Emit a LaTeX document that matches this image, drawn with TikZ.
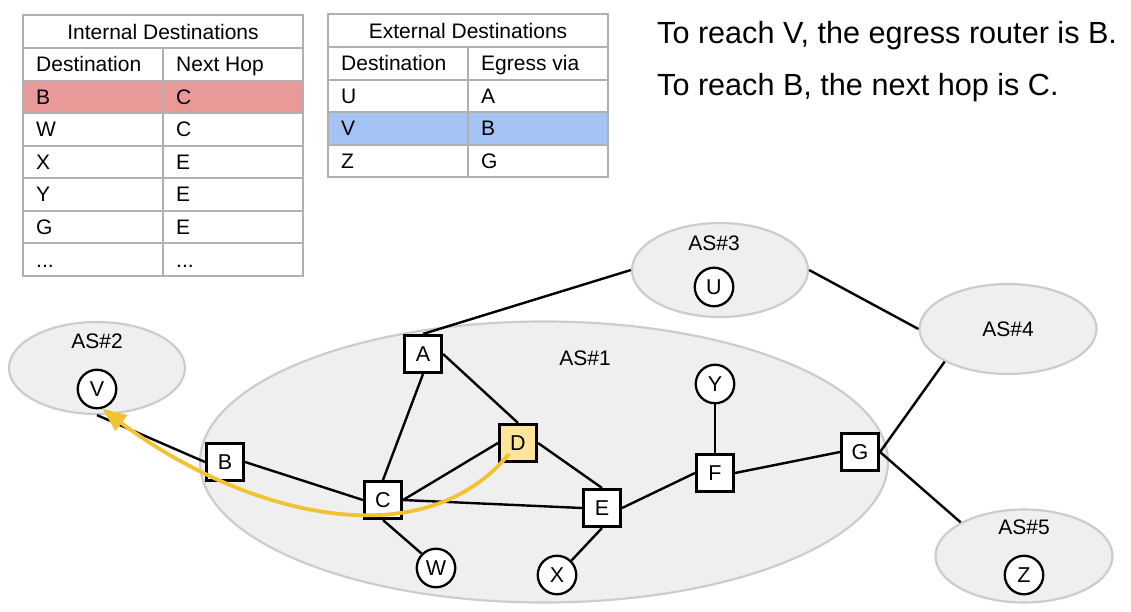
\documentclass[tikz,border=0pt]{standalone}
\usepackage{fontspec}
\setmainfont{Liberation Sans}
\usetikzlibrary{shapes.geometric,arrows.meta}

\definecolor{asfill}{HTML}{EFEFEF}
\definecolor{asline}{HTML}{CCCCCC}
\definecolor{cellline}{HTML}{B0B0B0}
\definecolor{redrow}{HTML}{EA9999}
\definecolor{bluerow}{HTML}{A4C2F4}
\definecolor{egress}{HTML}{FFE599}
\definecolor{routecol}{HTML}{F1C232}

\newcommand{\moredots}{...}

\tikzset{
	router/.style={draw, line width=2.6pt, fill=white, minimum size=37.5pt, inner sep=0pt, font=\fontsize{21.5}{25}\selectfont},
	host/.style={draw, circle, line width=2.3pt, fill=white, minimum size=38.5pt, inner sep=0pt, font=\fontsize{21.5}{25}\selectfont},
	as/.style={draw=asline, fill=asfill, ellipse, line width=2.2pt, inner sep=0pt, font=\fontsize{21}{25}\selectfont},
	aslabel/.style={inner sep=0pt, font=\fontsize{21}{25}\selectfont},
	link/.style={line width=2.4pt},
	route/.style={draw=routecol, line width=3.8pt, -{Triangle[length=24pt,width=19pt]}},
	cell/.style={draw=cellline, line width=1.5pt},
	entry/.style={anchor=base west, inner sep=0pt, font=\fontsize{21}{25}\selectfont},
	note/.style={anchor=base west, inner sep=0pt, font=\fontsize{30.6}{36}\selectfont}
}

\begin{document}
\begin{tikzpicture}[x=1pt,y=1pt]
	\useasboundingbox (0,0) rectangle (1131,-612);

	% internal destinations table
	\fill[redrow] (23,-81) rectangle (303,-113);
	\draw[cell] (23,-15) rectangle (303,-276);
	\foreach \y in {48,81,113,146,178,211,243}
		\draw[cell] (23,-\y) -- (303,-\y);
	\draw[cell] (163,-48) -- (163,-276);
	\node[aslabel] (inttitle) at (163,-31.5) {Internal Destinations};
	\foreach \d/\h [count=\i] in {Destination/Next Hop, B/C, W/C, X/E, Y/E, G/E, \moredots/\moredots} {
		\node[entry] (intd\i) at (36,{-72-32.5*(\i-1)}) {\d};
		\node[entry] (inth\i) at (176,{-72-32.5*(\i-1)}) {\h};
	}

	% external destinations table
	\fill[bluerow] (328,-112) rectangle (608,-145);
	\draw[cell] (328,-14) rectangle (608,-177);
	\foreach \y in {47,80,112,145}
		\draw[cell] (328,-\y) -- (608,-\y);
	\draw[cell] (468,-47) -- (468,-177);
	\node[aslabel] (exttitle) at (468,-30.5) {External Destinations};
	\foreach \d/\e [count=\i] in {Destination/Egress via, U/A, V/B, Z/G} {
		\node[entry] (extd\i) at (341,{-71-32.5*(\i-1)}) {\d};
		\node[entry] (exte\i) at (481,{-71-32.5*(\i-1)}) {\e};
	}

	\node[note] (note1) at (657,-44) {To reach V, the egress router is B.};
	\node[note] (note2) at (657,-96) {To reach B, the next hop is C.};

	% autonomous systems
	\node[as, minimum width=688pt, minimum height=281pt] (as1) at (544,-462) {};
	\node[as, minimum width=176pt, minimum height=92pt] (as2) at (97,-368) {};
	\node[as, minimum width=176pt, minimum height=94pt] (as3) at (720,-270) {};
	\node[as, minimum width=177pt, minimum height=90pt] (as4) at (1008,-329) {AS\#4};
	\node[as, minimum width=177pt, minimum height=93pt] (as5) at (1024,-556) {};
	\node[aslabel] (as1label) at (585,-358) {AS\#1};
	\node[aslabel] (as2label) at (97,-341) {AS\#2};
	\node[aslabel] (as3label) at (714,-243) {AS\#3};
	\node[aslabel] (as5label) at (1024,-527) {AS\#5};

	% routers and destinations
	\node[router] (A) at (423,-354) {A};
	\node[router] (B) at (225,-462) {B};
	\node[router] (C) at (383,-500) {C};
	\node[router, fill=egress] (D) at (518,-443) {D};
	\node[router] (E) at (602,-508) {E};
	\node[router] (F) at (715,-473) {F};
	\node[router] (G) at (860,-452) {G};
	\node[host] (V) at (97,-389) {V};
	\node[host] (U) at (714,-287) {U};
	\node[host] (Z) at (1024,-575) {Z};
	\node[host] (Y) at (715,-384) {Y};
	\node[host] (W) at (436,-568) {W};
	\node[host] (X) at (557,-575) {X};

	\foreach \p/\q in {A.north/as3.west, as3.east/as4.west, G.east/as4.south west,
		G.east/as5.north west, as2.south/B.west, B.east/C.west, A.south/C.north,
		A.east/D.north, C.east/D.west, C.east/E.west, D.east/E.north, E.east/F.west,
		F.east/G.west, F.north/Y.south, C.south/W.north west, E.south/X.north east}
		\draw[link] (\p) -- (\q);

	% path towards V
	\draw[route, shorten <=14pt] (D.center) .. controls (420,-562) and (240,-512) .. (V.-75);

\end{tikzpicture}
\end{document}
